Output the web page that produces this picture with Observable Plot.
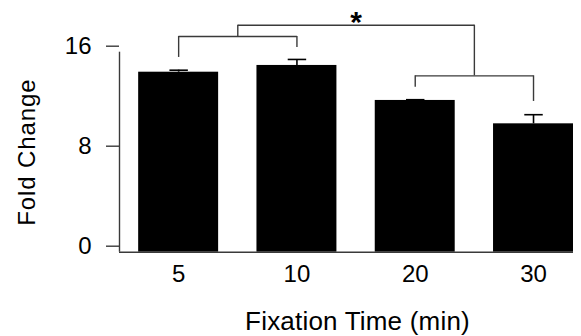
<!DOCTYPE html>
<html>
<head>
<meta charset="utf-8">
<script src="https://cdn.jsdelivr.net/npm/d3@7"></script>
<script src="https://cdn.jsdelivr.net/npm/@observablehq/plot@0.6"></script>
<style>
  html, body { margin: 0; padding: 0; background: #fff; }
  #chart svg { display: block; font-family: "Liberation Sans", Arial, sans-serif; }
</style>
</head>
<body>
<div id="chart"></div>
<script>
// ---- data ----
const times = ["5", "10", "20", "30"];          // fixation time (min)
const foldChange = [14.4, 14.94, 12.14, 10.27];   // bar heights
const sem = [0.16, 0.48, 0.06, 0.73];            // error bar (upper) sizes
const yTicks = [0, 8, 16];
const xTitle = "Fixation Time (min)";
const yTitle = "Fold Change";
// significance bracket: group A = 5,10 ; group B = 20,30
const groupA = [0, 1];
const groupB = [2, 3];
const groupLevels = [17.26, 14.11];               // horizontal level of each sub-bracket
const dropEnds = [15.58, 16.38, 13.2, 12.06];     // lower end of each bar's drop line
const topLevel = 18.16;                           // level of the joining bracket
const sigLabel = "*";

// ---- build tables ----
const data = times.map((t, i) => ({i, t, value: foldChange[i], err: sem[i]}));
const barHalf = 0.338;   // bar half-width in category units
const capHalf = 0.078;   // error cap half-width
const ink = "#3a3a3a";

const groups = [groupA, groupB];
const mids = groups.map(g => d3.mean(g));
const subH = groups.map((g, k) => ({x1: g[0], x2: g[1], y: groupLevels[k]}));
const drops = groups.flatMap((g, k) => g.map(i => ({x: i, y1: groupLevels[k], y2: dropEnds[i]})));
const connectors = mids.map((m, k) => ({x: m, y1: groupLevels[k], y2: topLevel}));
const topH = [{x1: mids[0], x2: mids[1], y: topLevel}];
const star = [{x: d3.mean(mids), y: topLevel, label: sigLabel}];

const xMin = -0.5, xMax = times.length - 1 + barHalf;

const plot = Plot.plot({
  width: 581,
  height: 336,
  marginLeft: 119,
  marginRight: 8,
  marginTop: 51.7,
  marginBottom: 84.3,
  style: {background: "#fff", color: "#000", fontFamily: "'Liberation Sans', Arial, sans-serif"},
  x: {type: "linear", domain: [xMin, xMax]},
  y: {domain: [0, 16]},
  marks: [
    Plot.rectY(data, {x1: d => d.i - barHalf, x2: d => d.i + barHalf, y: "value", fill: "#000"}),
    Plot.ruleX(data, {x: "i", y1: "value", y2: d => d.value + d.err, stroke: "#000", strokeWidth: 1.6}),
    Plot.link(data, {x1: d => d.i - capHalf, x2: d => d.i + capHalf, y1: d => d.value + d.err, y2: d => d.value + d.err, stroke: "#000", strokeWidth: 1.6}),
    // axes
    Plot.ruleY([0], {stroke: ink, strokeWidth: 1.4}),
    Plot.ruleX([xMin], {y1: yTicks[0], y2: yTicks[yTicks.length - 1], stroke: ink, strokeWidth: 1.4}),
    Plot.axisY(yTicks, {tickSize: 13, tickPadding: 15, dy: -6, fontSize: 24, stroke: ink, strokeWidth: 1.4, label: null}),
    Plot.axisX(data.map(d => d.i), {tickFormat: i => times[i], tickSize: 0, tickPadding: 13, fontSize: 24, label: null}),
    Plot.text([xTitle], {frameAnchor: "bottom", dx: 11, dy: 78, lineAnchor: "bottom", fontSize: 26, fill: "#000"}),
    Plot.text([yTitle], {frameAnchor: "left", textAnchor: "middle", rotate: -90, dx: -102, lineAnchor: "top", fontSize: 24, fill: "#000"}),
    // significance bracket
    Plot.link(subH, {x1: "x1", x2: "x2", y1: "y", y2: "y", stroke: ink, strokeWidth: 1.4}),
    Plot.ruleX(drops, {x: "x", y1: "y1", y2: "y2", stroke: ink, strokeWidth: 1.4}),
    Plot.ruleX(connectors, {x: "x", y1: "y1", y2: "y2", stroke: ink, strokeWidth: 1.4}),
    Plot.link(topH, {x1: "x1", x2: "x2", y1: "y", y2: "y", stroke: ink, strokeWidth: 1.4}),
    Plot.text(star, {x: "x", y: "y", text: "label", lineAnchor: "bottom", dy: 7, fontSize: 30, fontWeight: "bold", fill: "#000"})
  ]
});

document.getElementById("chart").appendChild(plot);

// letter spacing for the axis titles
d3.select(plot).selectAll("text").each(function () {
  const t = this.textContent;
  if (t === xTitle) this.setAttribute("letter-spacing", "0.2");
  if (t === yTitle) this.setAttribute("letter-spacing", "0.9");
});
</script>
</body>
</html>
